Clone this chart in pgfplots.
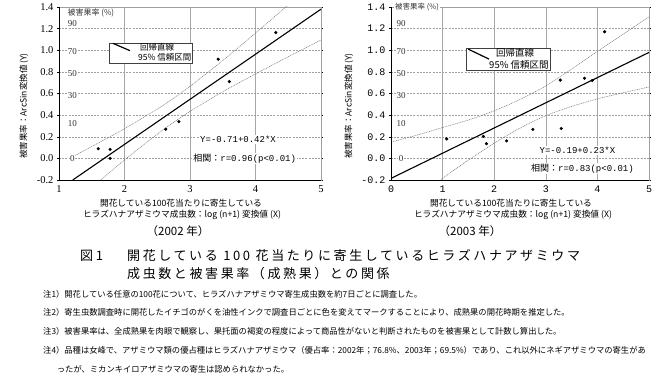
\documentclass[border=0pt]{standalone}
\usepackage{fontspec}
\setmainfont{Liberation Serif}
\newfontfamily\jp{Noto Sans CJK JP}
\newfontfamily\jpcap[LetterSpace=20]{Noto Sans CJK JP}
\newfontfamily\mono{Liberation Mono}
\usepackage{pgfplots}
\pgfplotsset{compat=1.18}
\newcommand\fs[1]{\fontsize{#1}{#1}\selectfont}

\pgfplotsset{
  chart/.style={
    scale only axis, height=173pt, anchor=south west,
    ymin=-0.2, ymax=1.4, xmax=5,
    ytick={-0.2,0,0.2,0.4,0.6,0.8,1.0,1.2,1.4},
    xmajorgrids, ymajorgrids,
    x grid style={gray!70, line width=0.4pt},
    y grid style={gray!75, line width=0.45pt, dash pattern=on 2pt off 1.2pt},
    axis line style={draw=gray!75, line width=0.45pt},
    /pgf/number format/assume math mode=true,
    yticklabel style={/pgf/number format/fixed, /pgf/number format/fixed zerofill, /pgf/number format/precision=1},
    xticklabel style={/pgf/number format/fixed, /pgf/number format/precision=0},
    xtick style={draw=none},
    ytick style={black, line width=0.4pt},
    tick align=outside, major tick length=2pt,
    clip mode=individual,
  },
}
\tikzset{
  pct/.style={fill=white, inner sep=0.6pt, font=\fs{9}, text=black!80},
  eq/.style={fill=white, inner sep=1pt, font=\mono\fs{9}},
  band/.style={black!55, line width=0.5pt, dash pattern=on 1pt off 0.8pt, smooth},
}

\begin{document}
\begin{tikzpicture}
\useasboundingbox (0,0) rectangle (669pt,388pt);

% ---------------- 2002 ----------------
\begin{axis}[chart, name=L, at={(59pt,208pt)}, width=262pt, xmin=1,
  xtick={1,2,3,4,5},
  ticklabel style={font=\fs{10.5}}]
\addplot[band] coordinates {
 (1.2,0.013)(1.5,0.109)(2.0,0.275)(2.5,0.456)(2.75,0.557)(3.0,0.666)(3.5,0.905)(4.0,1.159)(4.5,1.42)(5.0,1.685)};
\addplot[band] coordinates {
 (1.2,-0.425)(1.5,-0.269)(2.0,-0.015)(2.5,0.224)(2.75,0.333)(3.0,0.434)(3.5,0.616)(4.0,0.781)(4.5,0.94)(5.0,1.095)};
\addplot[black, line width=1.1pt] coordinates {(1.21,-0.2)(5,1.38)};
\addplot[only marks, mark=*, mark size=1.4pt, black] coordinates {
 (1.60,0.089)(1.78,0.083)(1.78,0.0)(2.63,0.27)(2.83,0.34)(3.43,0.917)(3.60,0.71)(4.31,1.163)};
% legend
\draw[black!75, line width=0.5pt, fill=white] (axis cs:1.763,1.067) rectangle (axis cs:3.03,0.882);
\draw[black, line width=1.2pt] (axis cs:1.824,1.064) -- (axis cs:2.084,0.996);
\node[anchor=west, inner sep=0pt, font=\jp\fs{8.5}] at (axis cs:2.237,1.024) {回帰直線};
\node[anchor=west, inner sep=0pt, font=\jp\fs{8.5}] at (axis cs:2.206,0.935) {95\% 信頼区間};
% inner percent labels
\node[inner sep=0pt, font=\jp\fs{8}, text=black!80] at (axis cs:1.486,1.342) {被害果率 (\%)};
\node[pct] at (axis cs:1.206,1.249) {90};
\node[pct] at (axis cs:1.206,0.991) {70};
\node[pct] at (axis cs:1.206,0.785) {50};
\node[pct] at (axis cs:1.206,0.580) {30};
\node[pct] at (axis cs:1.206,0.322) {10};
\node[pct] at (axis cs:1.206,0.0) {0};
% equation
\node[eq] at (axis cs:3.733,0.176) {Y=-0.71+0.42*X};
\node[eq] at (axis cs:3.835,0.0) {{\jp 相関：}r=0.96(p<0.01)};
\end{axis}
\draw[black, line width=0.7pt] (L.north west) -- (L.south west) -- (L.south east);

% ---------------- 2003 ----------------
\begin{axis}[chart, name=R, at={(391pt,208pt)}, width=258pt, xmin=0,
  xtick={0,1,2,3,4,5},
  ticklabel style={font=\mono\fs{10}}]
\addplot[band] coordinates {
 (0,0.15)(0.5,0.215)(1,0.285)(1.5,0.355)(2,0.44)(2.5,0.545)(3,0.67)(3.5,0.825)(4,0.99)(4.5,1.15)(5,1.31)};
\addplot[band] coordinates {
 (0.9,-0.23)(1,-0.185)(1.5,-0.015)(2,0.14)(2.5,0.28)(3,0.395)(3.5,0.48)(4,0.55)(4.5,0.607)(5,0.66)};
\addplot[black, line width=1.1pt] coordinates {(0,-0.185)(5,0.98)};
\addplot[only marks, mark=*, mark size=1.4pt, black] coordinates {
 (1.08,0.18)(1.79,0.203)(1.85,0.136)(2.24,0.162)(2.75,0.268)(3.28,0.724)(3.30,0.276)(3.75,0.741)(3.90,0.72)(4.14,1.171)};
% legend
\draw[black!75, line width=0.5pt, fill=white] (axis cs:1.467,1.014) rectangle (axis cs:3.08,0.811);
\draw[black, line width=1.2pt] (axis cs:1.498,1.01) -- (axis cs:1.9,0.918);
\node[anchor=west, inner sep=0pt, font=\jp\fs{9.5}] at (axis cs:2.035,0.972) {回帰直線};
\node[anchor=west, inner sep=0pt, font=\jp\fs{9.5}] at (axis cs:1.9,0.864) {95\% 信頼区間};
% inner percent labels
\node[pct] at (axis cs:0.194,1.249) {90};
\node[pct] at (axis cs:0.194,0.991) {70};
\node[pct] at (axis cs:0.194,0.785) {50};
\node[pct] at (axis cs:0.194,0.580) {30};
\node[pct] at (axis cs:0.194,0.322) {10};
\node[pct] at (axis cs:0.194,0.0) {0};
% equation
\node[eq] at (axis cs:3.614,0.071) {Y=-0.19+0.23*X};
\node[eq] at (axis cs:3.711,-0.092) {{\jp 相関：}r=0.83(p<0.01)};
\end{axis}
\draw[black, line width=0.7pt] (R.north west) -- (R.south west) -- (R.south east);
\node[fill=white, inner sep=1pt, font=\jp\fs{7.5}, text=black!80] at ([xshift=26pt]R.north west) {被害果率 (\%)};

% ---------------- axis titles ----------------
\node[rotate=90, font=\jp\fs{8.5}] at (24pt,282pt) {被害果率：ArcSin変換値 (Y)};
\node[rotate=90, font=\jp\fs{8.5}] at (349pt,282pt) {被害果率：ArcSin変換値 (Y)};
\node[font=\jp\fs{8.7}] at (181pt,185pt) {開花している100花当たりに寄生している};
\node[font=\jp\fs{8.7}] at (182pt,173pt) {ヒラズハナアザミウマ成虫数：log (n+1) 変換値 (X)};
\node[font=\jp\fs{8.7}] at (511pt,185pt) {開花している100花当たりに寄生している};
\node[font=\jp\fs{8.7}] at (513pt,173pt) {ヒラズハナアザミウマ成虫数：log (n+1) 変換値 (X)};
\node[font=\jp\fs{11.5}] at (178pt,157pt) {（2002 年）};
\node[font=\jp\fs{11.5}] at (470pt,157pt) {（2003 年）};

% ---------------- caption ----------------
\node[anchor=west, inner sep=0pt, font=\jpcap\fs{13}] at (80pt,132pt) {図1};
\node[anchor=west, inner sep=0pt, font=\jpcap\fs{13}] at (127pt,132pt) {開花している 100 花当たりに寄生しているヒラズハナアザミウマ};
\node[anchor=west, inner sep=0pt, font=\jpcap\fs{13}] at (127pt,114pt) {成虫数と被害果率（成熟果）との関係};

% ---------------- notes ----------------
\begin{scope}[every node/.style={anchor=west, inner sep=0pt, font=\jp\fs{8.3}}]
\node at (43pt,94pt) {注1）開花している任意の100花について、ヒラズハナアザミウマ寄生成虫数を約7日ごとに調査した。};
\node at (43pt,76pt) {注2）寄生虫数調査時に開花したイチゴのがくを油性インクで調査日ごとに色を変えてマークすることにより、成熟果の開花時期を推定した。};
\node at (43pt,57pt) {注3）被害果率は、全成熟果を肉眼で観察し、果托面の褐変の程度によって商品性がないと判断されたものを被害果として計数し算出した。};
\node at (43pt,38pt) {注4）品種は女峰で、アザミウマ類の優占種はヒラズハナアザミウマ（優占率：2002年；76.8\%、2003年；69.5\%）であり、これ以外にネギアザミウマの寄生があ};
\node at (56.7pt,19pt) {ったが、ミカンキイロアザミウマの寄生は認められなかった。};
\end{scope}
\end{tikzpicture}
\end{document}
